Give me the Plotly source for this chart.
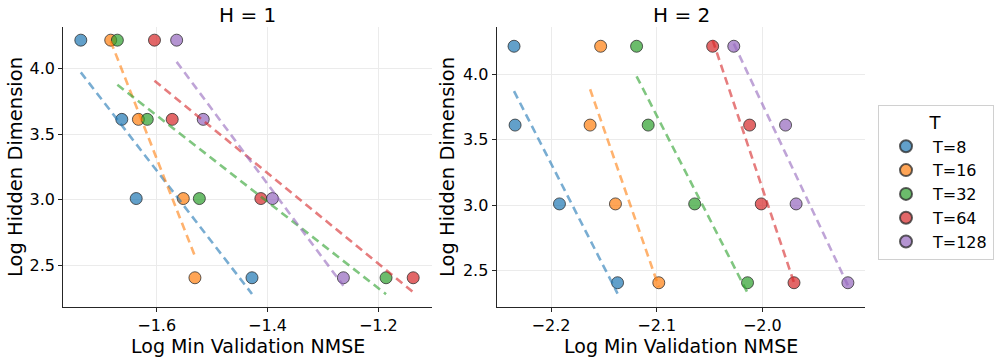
import numpy as np
import plotly.graph_objects as go

# log10 of hidden dims 16384, 4096, 1024, 256
hidden_log = [4.214, 3.612, 3.010, 2.408]

t_labels = ["T=8", "T=16", "T=32", "T=64", "T=128"]
colors = ["#1f77b4", "#ff7f0e", "#2ca02c", "#d62728", "#9467bd"]

# log min validation NMSE, one list per T, ordered as hidden_log
h1_nmse = {
    "T=8": [-1.737, -1.663, -1.637, -1.428],
    "T=16": [-1.683, -1.633, -1.552, -1.531],
    "T=32": [-1.671, -1.617, -1.523, -1.186],
    "T=64": [-1.604, -1.572, -1.412, -1.137],
    "T=128": [-1.564, -1.516, -1.391, -1.263],
}
h2_nmse = {
    "T=8": [-2.235, -2.234, -2.192, -2.137],
    "T=16": [-2.153, -2.163, -2.139, -2.098],
    "T=32": [-2.119, -2.108, -2.064, -2.014],
    "T=64": [-2.047, -2.012, -2.001, -1.970],
    "T=128": [-2.027, -1.978, -1.968, -1.919],
}

W, H = 997, 360


def px_x(p):
    return p / W


def px_y(p):
    return 1 - p / H


def rgba(hex_c, a):
    h = hex_c.lstrip("#")
    r, g, b = int(h[0:2], 16), int(h[2:4], 16), int(h[4:6], 16)
    return f"rgba({r},{g},{b},{a})"


fig = go.Figure()

panels = [
    (h1_nmse, "x", "y"),
    (h2_nmse, "x2", "y2"),
]

# 先画散点
for i, (data, xa, ya) in enumerate(panels):
    for t, c in zip(t_labels, colors):
        fig.add_trace(go.Scatter(
            x=data[t], y=hidden_log, mode="markers",
            marker=dict(size=12, color=rgba(c, 0.7),
                        line=dict(color="rgba(40,40,40,0.75)", width=1)),
            name=t, legendgroup=t, showlegend=(i == 0),
            xaxis=xa, yaxis=ya,
        ))

# 回归虚线（y 对 x 的最小二乘）
for data, xa, ya in panels:
    for t, c in zip(t_labels, colors):
        xs = np.array(data[t])
        k, b = np.polyfit(xs, np.array(hidden_log), 1)
        x_end = np.array([xs.min(), xs.max()])
        fig.add_trace(go.Scatter(
            x=x_end, y=k * x_end + b, mode="lines",
            line=dict(color=rgba(c, 0.6), width=2.6, dash="8px,5px"),
            showlegend=False, hoverinfo="skip", xaxis=xa, yaxis=ya,
        ))

axis_common = dict(
    showline=True, linecolor="#262626", linewidth=1.3,
    ticks="outside", ticklen=4, tickcolor="#262626",
    showgrid=True, gridcolor="#ebebeb", gridwidth=1,
    zeroline=False, tickfont=dict(size=16, color="#000"),
    automargin=False,
)

y_dom = [px_y(306.7), px_y(27)]
fig.update_layout(
    width=W, height=H,
    paper_bgcolor="white", plot_bgcolor="white",
    margin=dict(l=0, r=0, t=0, b=0),
    font=dict(family="DejaVu Sans", color="#000"),
    xaxis=dict(domain=[px_x(63.3), px_x(431.7)], range=[-1.7686, -1.1036],
               tickvals=[-1.6, -1.4, -1.2], ticktext=["−1.6", "−1.4", "−1.2"],
               anchor="y", **axis_common),
    yaxis=dict(domain=y_dom, range=[2.188, 4.314],
               tickvals=[2.5, 3.0, 3.5, 4.0], tickformat=".1f",
               anchor="x", **axis_common),
    xaxis2=dict(domain=[px_x(496.7), px_x(865)], range=[-2.2514, -1.9028],
                tickvals=[-2.2, -2.1, -2.0], ticktext=["−2.2", "−2.1", "−2.0"],
                anchor="y2", **axis_common),
    yaxis2=dict(domain=y_dom, range=[2.225, 4.361],
                tickvals=[2.5, 3.0, 3.5, 4.0], tickformat=".1f",
                anchor="x2", **axis_common),
    legend=dict(
        x=px_x(878), y=px_y(105), xanchor="left", yanchor="top",
        bordercolor="#d0d0d0", borderwidth=1, bgcolor="white",
        font=dict(size=16), itemsizing="constant", itemwidth=44,
        title=dict(text="T", font=dict(size=18), side="top center"),
        tracegroupgap=0,
    ),
    showlegend=True,
)

ann = [
    ("H = 1", 247.5, 15, 0, 20),
    ("H = 2", 681, 15, 0, 20),
    ("Log Min Validation NMSE", 247.5, 346, 0, 19),
    ("Log Min Validation NMSE", 681, 346, 0, 19),
    ("Log Hidden Dimension", 15, 167, -90, 19.5),
    ("Log Hidden Dimension", 447, 167, -90, 19.5),
]
for text, px, py, ang, sz in ann:
    fig.add_annotation(
        text=text, x=px_x(px), y=px_y(py), xref="paper", yref="paper",
        xanchor="center", yanchor="middle", showarrow=False, textangle=ang,
        font=dict(size=sz, color="#000"),
    )

# 去掉页面 body 的默认 8px 边距，让图贴齐窗口；隐藏工具栏
fig.write_html(
    "out.html",
    config={"displayModeBar": False},
    post_script="document.body.style.margin='0';",
)
